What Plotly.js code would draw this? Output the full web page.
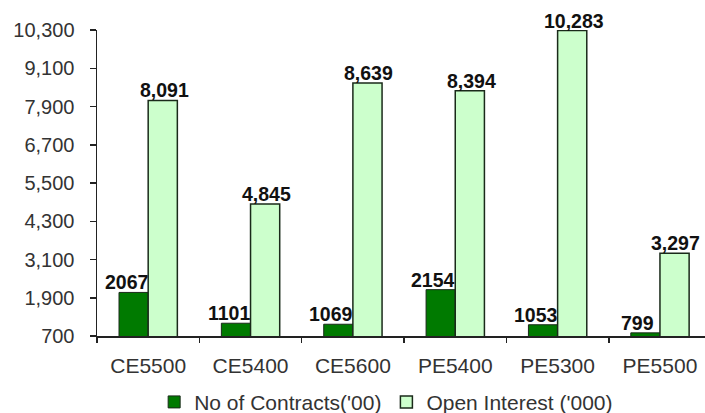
<!DOCTYPE html>
<html>
<head>
<meta charset="utf-8">
<script src="https://cdn.plot.ly/plotly-3.0.1.min.js"></script>
<style>html,body{margin:0;padding:0;background:#fff;}#chart{width:705px;height:413px;}</style>
</head>
<body>
<div id="chart"></div>
<script>
const categories = ["CE5500", "CE5400", "CE5600", "PE5400", "PE5300", "PE5500"];
const contracts = [2067, 1101, 1069, 2154, 1053, 799];
const openInterest = [8091, 4845, 8639, 8394, 10283, 3297];
const contractLabels = ["2067", "1101", "1069", "2154", "1053", "799"];
const oiLabels = ["8,091", "4,845", "8,639", "8,394", "10,283", "3,297"];
const yTicks = [700, 1900, 3100, 4300, 5500, 6700, 7900, 9100, 10300];
const yTickText = ["700", "1,900", "3,100", "4,300", "5,500", "6,700", "7,900", "9,100", "10,300"];

const font = "Liberation Sans, Arial, sans-serif";

const traces = [
  {
    type: "bar", name: "No of Contracts('00)", x: categories, y: contracts,
    marker: {color: "#007a00", line: {color: "#1a2a1a", width: 1}},
    hoverinfo: "none"
  },
  {
    type: "bar", name: "Open Interest ('000)", x: categories, y: openInterest,
    marker: {color: "#ccffcc", line: {color: "#1a2a1a", width: 1.5}},
    hoverinfo: "none"
  }
];

const annotations = [];
categories.forEach((c, i) => {
  annotations.push({x: c, y: contracts[i], text: contractLabels[i], showarrow: false,
    xanchor: "center", yanchor: "bottom", xshift: -22, yshift: -3,
    font: {family: font, size: 19.5, color: "#111", weight: "bold"}});
  annotations.push({x: c, y: openInterest[i], text: oiLabels[i], showarrow: false,
    xanchor: "center", yanchor: "bottom", xshift: 16, yshift: -3,
    font: {family: font, size: 19.5, color: "#111", weight: "bold"}});
});

const layout = {
  width: 705, height: 413,
  margin: {l: 97, r: 0, t: 30, b: 77},
  paper_bgcolor: "#fff", plot_bgcolor: "#fff",
  barmode: "group", bargap: 0.43, bargroupgap: 0,
  font: {family: font, size: 20, color: "#333"},
  showlegend: true,
  legend: {orientation: "h", x: 0.094, xanchor: "left",
    yref: "container", y: 0.026, yanchor: "middle",
    font: {family: font, size: 21, color: "#333"}, itemwidth: 30, tracegroupgap: 0,
    traceorder: "normal"},
  xaxis: {
    type: "category", range: [-0.5, 5.44],
    showline: true, linecolor: "#222", linewidth: 1.5,
    ticks: "outside", tickson: "boundaries", ticklen: 5, tickcolor: "#222", tickwidth: 1.5,
    tickfont: {family: font, size: 21, color: "#333"}, ticklabelstandoff: 10,
    showgrid: false, zeroline: false, fixedrange: true
  },
  yaxis: {
    range: [700, 10300], tickvals: yTicks, ticktext: yTickText,
    showline: true, linecolor: "#222", linewidth: 1.5,
    ticks: "outside", ticklen: 6, tickcolor: "#222", tickwidth: 1.5,
    tickfont: {family: font, size: 20, color: "#333"}, ticklabelstandoff: 11,
    showgrid: false, zeroline: false, fixedrange: true
  },
  annotations: annotations
};

Plotly.newPlot("chart", traces, layout, {displayModeBar: false, staticPlot: true});
</script>
</body>
</html>
